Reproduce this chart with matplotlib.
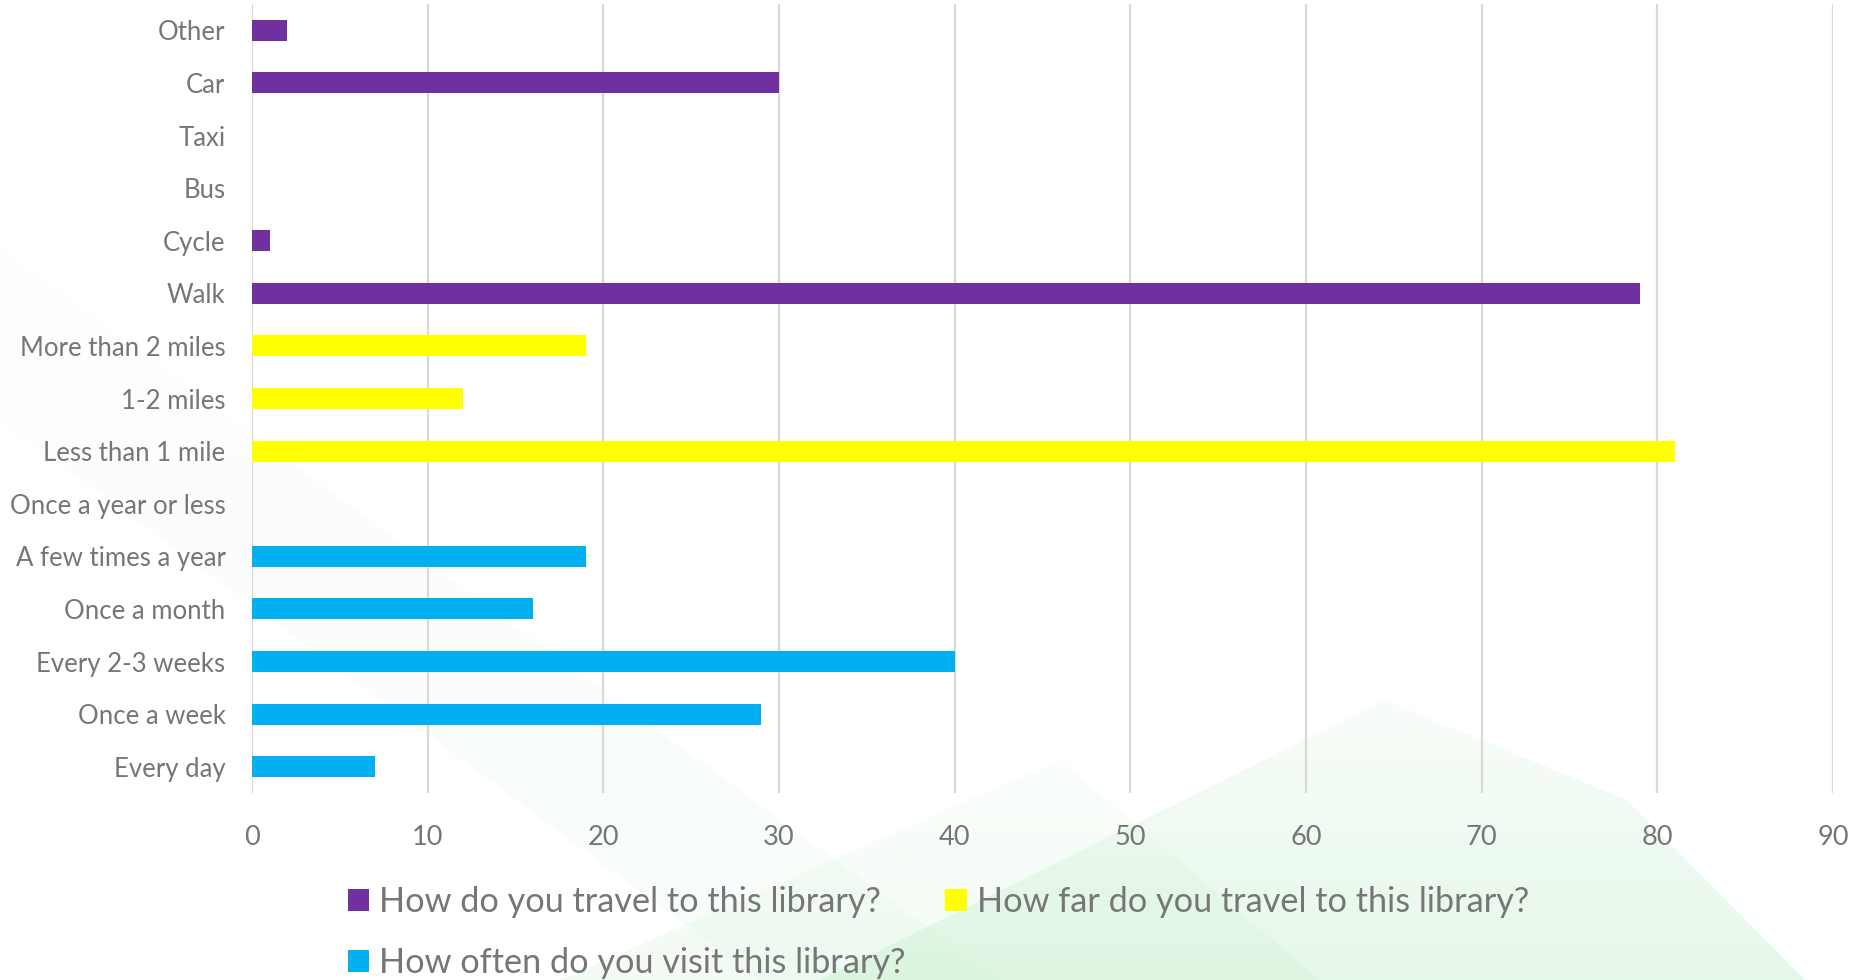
import matplotlib
matplotlib.use("Agg")
import matplotlib.pyplot as plt
import numpy as np
from matplotlib.patches import Polygon

# survey answers, listed bottom to top as they sit on the chart
often_labels = ["Every day", "Once a week", "Every 2-3 weeks", "Once a month",
                "A few times a year", "Once a year or less"]
often_values = [7, 29, 40, 16, 19, 0]

far_labels = ["Less than 1 mile", "1-2 miles", "More than 2 miles"]
far_values = [81, 12, 19]

travel_labels = ["Walk", "Cycle", "Bus", "Taxi", "Car", "Other"]
travel_values = [79, 1, 0, 0, 30, 2]

series_names = ["How do you travel to this library?",
                "How far do you travel to this library?",
                "How often do you visit this library?"]
x_ticks = [0, 10, 20, 30, 40, 50, 60, 70, 80, 90]

plt.rcParams['font.family'] = ['Lato', 'DejaVu Sans']
text_grey = "#767676"

W, H = 1865, 980
fig = plt.figure(figsize=(W / 100, H / 100), dpi=100)

# soft green backdrop shapes (pixel space, y downwards)
bg = fig.add_axes([0, 0, 1, 1], zorder=0)
bg.set_xlim(0, W)
bg.set_ylim(H, 0)
bg.axis("off")


def shade(points, alpha_top, alpha_bottom, color=(0.78, 0.94, 0.80)):
    poly = Polygon(points, closed=True, facecolor="none", edgecolor="none")
    bg.add_patch(poly)
    grad = np.zeros((256, 2, 4))
    grad[..., 0], grad[..., 1], grad[..., 2] = color
    grad[..., 3] = np.linspace(alpha_top, alpha_bottom, 256)[:, None]
    ys = [p[1] for p in points]
    im = bg.imshow(grad, extent=(0, W, max(ys), min(ys)), aspect="auto",
                   interpolation="bilinear")
    im.set_clip_path(poly)


shade([(0, 250), (0, 420), (760, 980), (1000, 980)], 0.04, 0.12)
shade([(560, 980), (1060, 760), (1320, 980)], 0.08, 0.22)
shade([(820, 980), (1385, 700), (1627, 800), (1805, 980)], 0.12, 0.45)

ax = fig.add_axes([252 / W, 1 - 793 / H, (1833 - 252) / W, (793 - 4) / H], zorder=1)
ax.patch.set_alpha(0)

n_often = len(often_labels)
n_far = len(far_labels)
y_often = np.arange(n_often)
y_far = np.arange(n_far) + n_often
y_travel = np.arange(len(travel_labels)) + n_often + n_far

b_travel = ax.barh(y_travel, travel_values, height=0.4, color="#7030A0")
b_far = ax.barh(y_far, far_values, height=0.4, color="#FFFF00")
b_often = ax.barh(y_often, often_values, height=0.4, color="#00B0F0")

ax.set_yticks(np.concatenate([y_often, y_far, y_travel]))
ax.set_yticklabels(often_labels + far_labels + travel_labels)
ax.set_ylim(-0.5, len(travel_labels) + n_often + n_far - 0.5)
ax.set_xlim(0, 90)
ax.set_xticks(x_ticks)

ax.grid(axis="x", color="#d9d9d9", linewidth=1.6)
ax.set_axisbelow(True)
for s in ax.spines.values():
    s.set_visible(False)
ax.tick_params(axis="y", length=0, pad=19, labelsize=18.5, labelcolor=text_grey)
ax.tick_params(axis="x", length=0, pad=23, labelsize=19.5, labelcolor=text_grey)

fig.legend([b_travel, b_often, b_far],
           [series_names[0], series_names[2], series_names[1]],
           ncol=2, loc="upper left", bbox_to_anchor=(334 / W, 1 - 872 / H),
           frameon=False, fontsize=24.7, labelcolor=text_grey,
           handlelength=0.62, handleheight=0.62, handletextpad=0.3,
           columnspacing=1.15, labelspacing=0.85, borderaxespad=0)

fig.savefig("out.png", dpi=100)
